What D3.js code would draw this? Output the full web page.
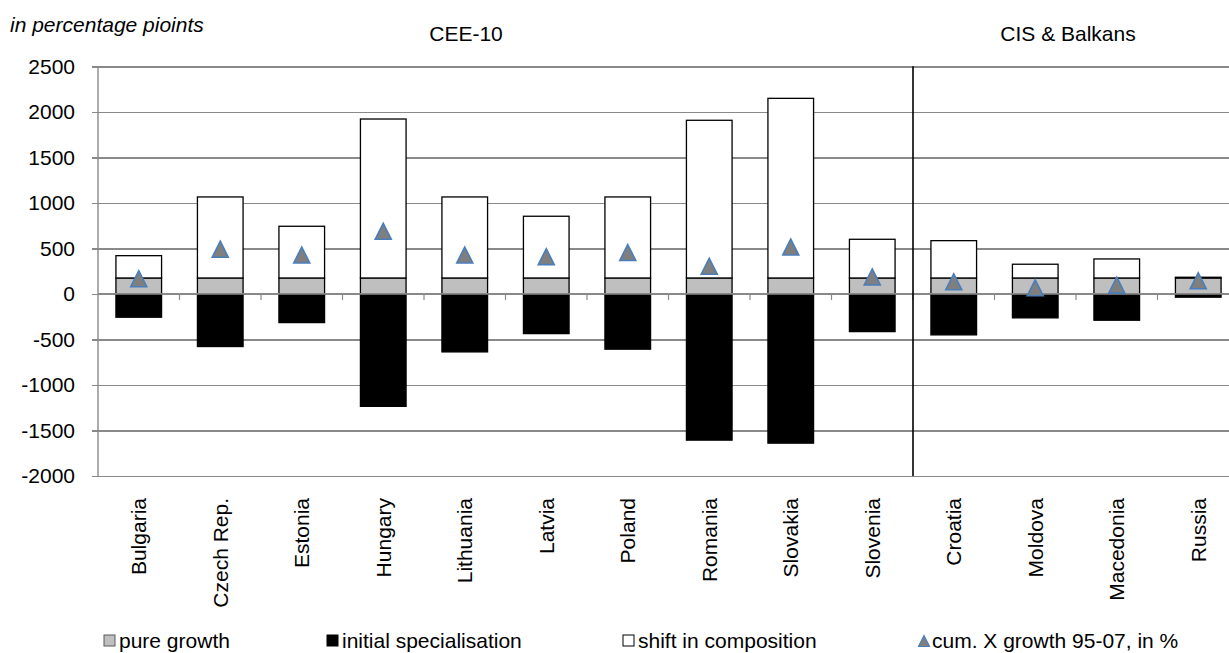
<!DOCTYPE html>
<html>
<head>
<meta charset="utf-8">
<script src="https://cdn.jsdelivr.net/npm/d3@7"></script>
<style>
  html, body { margin: 0; padding: 0; background: #fff; }
  svg { display: block; font-family: "Liberation Sans", Arial, sans-serif; }
</style>
</head>
<body>
<svg id="chart" width="1229" height="653"></svg>
<script>
// Export growth decomposition by country, 1995-2007
const categories = ["Bulgaria", "Czech Rep.", "Estonia", "Hungary", "Lithuania", "Latvia",
  "Poland", "Romania", "Slovakia", "Slovenia", "Croatia", "Moldova", "Macedonia", "Russia"];
const pureGrowth = [175, 175, 175, 175, 175, 175, 175, 175, 175, 175, 175, 175, 175, 175];
const initialSpecialisation = [-256, -578, -315, -1235, -637, -436, -607, -1606, -1639, -414, -450, -263, -289, -36];
const shiftInComposition = [245, 890, 568, 1746, 890, 678, 890, 1732, 1973, 425, 410, 151, 209, 8];
const cumGrowth = [167, 491, 427, 688, 427, 409, 455, 304, 515, 186, 133, 67, 96, 144];
const yTicks = [-2000, -1500, -1000, -500, 0, 500, 1000, 1500, 2000, 2500];
const groups = [
  { label: "CEE-10", x: 466 },
  { label: "CIS & Balkans", x: 1068 }
];
const groupSplit = 10; // first category of the second group
const seriesNames = ["pure growth", "initial specialisation", "shift in composition", "cum. X growth 95-07, in %"];

const svg = d3.select("#chart");
const FONT = 21;

const plot = { left: 98, right: 1239, top: 66.3, bottom: 476 };

const x = d3.scaleBand()
  .domain(categories)
  .range([plot.left, plot.right])
  .paddingInner(0.44)
  .paddingOuter(0.22);

const y = d3.scaleLinear()
  .domain([-2000, 2500])
  .range([plot.bottom, plot.top]);

const rows = categories.map((c, i) => ({
  category: c,
  pure: pureGrowth[i],
  initial: initialSpecialisation[i],
  shift: shiftInComposition[i]
}));

const stacked = d3.stack()
  .keys(["pure", "initial", "shift"])
  .offset(d3.stackOffsetDiverging)(rows);

const fills = { pure: "#bfbfbf", initial: "#000000", shift: "#ffffff" };

// Horizontal gridlines with outward tick marks on the value axis
const yAxis = d3.axisLeft(y)
  .tickValues(yTicks)
  .tickSize(plot.right - plot.left + 6)
  .tickPadding(17)
  .tickFormat(d => String(d));

const gy = svg.append("g")
  .attr("transform", `translate(${plot.right},0)`)
  .call(yAxis);
gy.select(".domain").remove();
gy.selectAll(".tick line")
  .attr("stroke", "#898989")
  .attr("stroke-width", 1.4)
  .attr("shape-rendering", "crispEdges");
gy.selectAll(".tick text")
  .attr("font-size", FONT)
  .attr("fill", "#000")
  .attr("font-family", "Liberation Sans, Arial, sans-serif");

// Vertical value axis line
svg.append("line")
  .attr("x1", plot.left).attr("x2", plot.left)
  .attr("y1", plot.top).attr("y2", plot.bottom)
  .attr("stroke", "#898989")
  .attr("stroke-width", 1.4);

// Bars
svg.append("g").selectAll("g")
  .data(stacked)
  .join("g")
  .attr("fill", d => fills[d.key])
  .selectAll("rect")
  .data(d => d)
  .join("rect")
  .attr("x", d => x(d.data.category))
  .attr("width", x.bandwidth())
  .attr("y", d => y(Math.max(d[0], d[1])))
  .attr("height", d => Math.abs(y(d[0]) - y(d[1])))
  .attr("stroke", "#000")
  .attr("stroke-width", 1.3);

// Category axis along zero with ticks between categories
const step = x.step();
const boundaries = d3.range(1, categories.length).map(i => plot.left + i * step);
svg.append("line")
  .attr("x1", plot.left).attr("x2", plot.right)
  .attr("y1", y(0)).attr("y2", y(0))
  .attr("stroke", "#898989")
  .attr("stroke-width", 1.6);
svg.append("g").selectAll("line")
  .data(boundaries)
  .join("line")
  .attr("x1", d => d).attr("x2", d => d)
  .attr("y1", y(0)).attr("y2", y(0) + 6)
  .attr("stroke", "#898989")
  .attr("stroke-width", 1.2);

// Group separator
const sepX = plot.left + groupSplit * step;
svg.append("line")
  .attr("x1", sepX).attr("x2", sepX)
  .attr("y1", plot.top).attr("y2", plot.bottom)
  .attr("stroke", "#000")
  .attr("stroke-width", 1.6);

// Cumulative growth markers
const tri = (s) => `M0,${-s}L${s},${s}L${-s},${s}Z`;
svg.append("g").selectAll("path")
  .data(cumGrowth)
  .join("path")
  .attr("d", tri(8))
  .attr("transform", (d, i) => `translate(${x(categories[i]) + x.bandwidth() / 2},${y(d)})`)
  .attr("fill", "#7f7f7f")
  .attr("stroke", "#4a7ebb")
  .attr("stroke-width", 1.6)
  .attr("stroke-linejoin", "miter");

// Category labels, rotated
svg.append("g").selectAll("text")
  .data(categories)
  .join("text")
  .attr("transform", d => `translate(${x(d) + x.bandwidth() / 2},498) rotate(-90)`)
  .attr("text-anchor", "end")
  .attr("dy", "0.35em")
  .attr("font-size", FONT)
  .attr("fill", "#000")
  .text(d => d);

// Unit note and group headings
svg.append("text")
  .attr("x", 10).attr("y", 32)
  .attr("font-size", FONT)
  .attr("font-style", "italic")
  .attr("fill", "#000")
  .text("in percentage pioints");

svg.append("g").selectAll("text")
  .data(groups)
  .join("text")
  .attr("x", d => d.x).attr("y", 41)
  .attr("text-anchor", "middle")
  .attr("font-size", FONT)
  .attr("fill", "#000")
  .text(d => d.label);

// Legend
const legendX = [104, 327, 623, 918];
const legend = svg.append("g").selectAll("g")
  .data(seriesNames)
  .join("g")
  .attr("transform", (d, i) => `translate(${legendX[i]},641)`);

legend.each(function (d, i) {
  const g = d3.select(this);
  if (i === 0) {
    g.append("rect").attr("x", 0).attr("y", -6).attr("width", 11).attr("height", 11)
      .attr("fill", "#bfbfbf").attr("stroke", "#5a5a5a").attr("stroke-width", 1);
  } else if (i === 1) {
    g.append("rect").attr("x", 0).attr("y", -6).attr("width", 11).attr("height", 11)
      .attr("fill", "#000").attr("stroke", "#000").attr("stroke-width", 1);
  } else if (i === 2) {
    g.append("rect").attr("x", 0).attr("y", -6).attr("width", 11).attr("height", 11)
      .attr("fill", "#fff").attr("stroke", "#000").attr("stroke-width", 1);
  } else {
    g.append("path").attr("d", tri(5.5)).attr("transform", "translate(6,0)")
      .attr("fill", "#7f7f7f").attr("stroke", "#4a7ebb").attr("stroke-width", 1.2);
  }
  g.append("text")
    .attr("x", i === 3 ? 14 : 15).attr("y", 7)
    .attr("font-size", FONT)
    .attr("fill", "#000")
    .text(d);
});
</script>
</body>
</html>
